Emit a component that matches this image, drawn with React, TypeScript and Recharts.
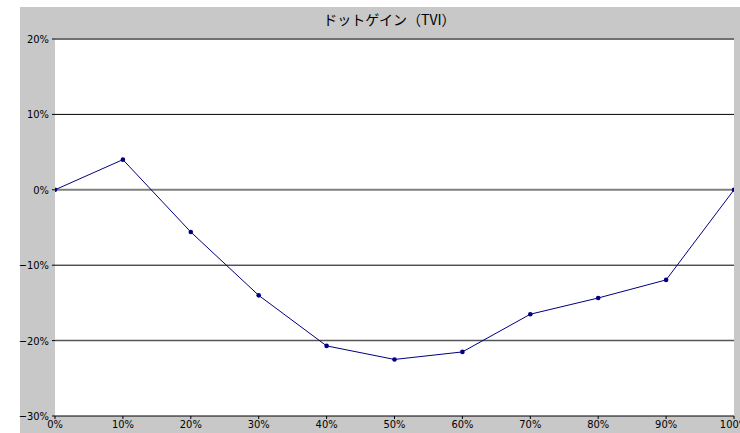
import { LineChart, Line, XAxis, YAxis, CartesianGrid, ReferenceLine } from 'recharts'

const inks = [0, 10, 20, 30, 40, 50, 60, 70, 80, 90, 100]
const tvi = [0, 4.0, -5.6, -14.0, -20.7, -22.5, -21.5, -16.5, -14.35, -11.95, 0]
const xTicks = [0, 10, 20, 30, 40, 50, 60, 70, 80, 90, 100]
const yTicks = [-30, -20, -10, 0, 10, 20]
const title = 'ドットゲイン（TVI）'

const data = inks.map((x, i) => ({ x, v: tvi[i] }))
const font = '"DejaVu Sans Condensed", "Liberation Sans Narrow", Arial, sans-serif'
const pct = (v: number) => `${v}%`.replace('-', '−')

export default function App() {
  return (
    <div style={{ position: 'relative', width: 740, height: 433, background: '#fff', overflow: 'hidden' }}>
      <style>{'body{margin:0}'}</style>
      <div style={{ position: 'absolute', left: 20, top: 7, width: 720, height: 426, background: '#c8c8c8' }} />
      <div
        style={{
          position: 'absolute', left: 50, width: 679, top: 10, textAlign: 'center',
          fontFamily: '"Noto Sans CJK JP", sans-serif', fontSize: 14, color: '#000', lineHeight: '18px',
        }}
      >
        {title}
      </div>
      <div style={{ position: 'absolute', left: 0, top: 0 }}>
        <LineChart width={740} height={433} data={data} margin={{ top: 39, right: 6, bottom: 0, left: 20 }}>
          <CartesianGrid vertical={false} stroke="#000" fill="#fff" horizontalValues={[-10, 10]} />
          <ReferenceLine y={20} stroke="#707070" strokeWidth={2} />
          <ReferenceLine y={0} stroke="#808080" strokeWidth={2} />
          <ReferenceLine y={-20} stroke="#555" strokeWidth={1.5} />
          <XAxis
            dataKey="x" type="number" domain={[0, 100]} ticks={xTicks} height={17}
            tickFormatter={pct} tickSize={3} tickMargin={1}
            stroke="#000" tick={{ fill: '#000', fontSize: 11, fontFamily: font }}
            interval={0} allowDataOverflow
          />
          <YAxis
            type="number" domain={[-30, 20]} ticks={yTicks} width={35}
            tickFormatter={pct} tickSize={3} tickMargin={3} axisLine={false}
            stroke="#000" tick={{ fill: '#000', fontSize: 11, fontFamily: font }}
            interval={0}
          />
          <Line
            type="linear" dataKey="v" stroke="#000080" strokeWidth={1}
            dot={{ r: 2.3, fill: '#000080', stroke: '#000080', strokeWidth: 0 }}
            activeDot={false} isAnimationActive={false}
          />
        </LineChart>
      </div>
    </div>
  )
}
